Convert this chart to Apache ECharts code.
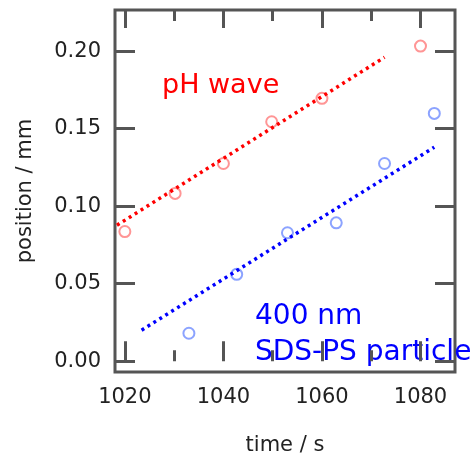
<!DOCTYPE html>
<html>
<head>
<meta charset="utf-8">
<script src="https://cdn.jsdelivr.net/npm/echarts@6/dist/echarts.min.js"></script>
<style>
  html, body { margin: 0; padding: 0; background: #fff; }
  #chart { width: 476px; height: 457px; }
</style>
</head>
<body>
<div id="chart"></div>
<script>
// Measured positions of the pH wave front and of the particle band (time in s, position in mm)
const phTime = [1020, 1030.2, 1040, 1049.8, 1060, 1080];
const phPos = [0.0836, 0.1082, 0.1275, 0.1544, 0.1695, 0.2032];
const psTime = [1033.0, 1042.7, 1053.0, 1062.9, 1072.7, 1082.8];
const psPos = [0.018, 0.056, 0.0828, 0.0892, 0.1275, 0.1598];

// Straight-line fits, given by their two end points
const phFitTime = [1018.4, 1072.7];
const phFitPos = [0.0877, 0.196];
const psFitTime = [1023.4, 1082.8];
const psFitPos = [0.020, 0.138];

// Axis ticks
const xMajor = [1020, 1040, 1060, 1080];
const xMinor = [1030, 1050, 1070];
const yMajor = [0, 0.05, 0.10, 0.15, 0.20];

const FONT = 'DejaVu Sans';
const FRAME = '#555';
const TXT = '#222';

const pairs = (a, b) => a.map((v, i) => [v, b[i]]);

const xRange = { min: 1018, max: 1087 };
const yRange = { min: -0.007, max: 0.2265 };

function xAxisDef(pos, ticks, len, labels, name) {
  return {
    type: 'value', position: pos, ...xRange,
    axisLine: { show: false },
    splitLine: { show: false },
    axisTick: { show: true, inside: true, length: len, customValues: ticks,
      lineStyle: { color: FRAME, width: 3 } },
    axisLabel: labels ? { show: true, customValues: ticks, margin: 15,
      formatter: v => String(Math.round(v)),
      fontFamily: FONT, fontSize: 21, color: TXT } : { show: false },
    name: name || '', nameLocation: 'middle', nameGap: 63,
    nameTextStyle: { fontFamily: FONT, fontSize: 21, color: TXT }
  };
}

function yAxisDef(pos, labels, name) {
  return {
    type: 'value', position: pos, ...yRange,
    axisLine: { show: false },
    splitLine: { show: false },
    axisTick: { show: true, inside: true, length: 20, customValues: yMajor,
      lineStyle: { color: FRAME, width: 3 } },
    axisLabel: labels ? { show: true, customValues: yMajor, margin: 14,
      formatter: v => v.toFixed(2),
      fontFamily: FONT, fontSize: 21, color: TXT } : { show: false },
    name: name || '', nameLocation: 'middle', nameGap: 79,
    nameTextStyle: { fontFamily: FONT, fontSize: 21, color: TXT }
  };
}

const chart = echarts.init(document.getElementById('chart'), null, { renderer: 'canvas' });

chart.setOption({
  animation: false,
  backgroundColor: '#fff',
  grid: { left: 115, right: 21, top: 10, bottom: 85, show: true,
    containLabel: false, outerBoundsMode: 'none',
    borderColor: FRAME, borderWidth: 3, backgroundColor: 'transparent' },
  xAxis: [
    xAxisDef('bottom', xMajor, 20, true, 'time / s'),
    xAxisDef('bottom', xMinor, 11, false),
    xAxisDef('top', xMajor, 18, false),
    xAxisDef('top', xMinor, 11, false)
  ],
  yAxis: [
    yAxisDef('left', true, 'position / mm'),
    yAxisDef('right', false)
  ],
  series: [
    {
      type: 'line', data: pairs(phFitTime, phFitPos), showSymbol: false, silent: true,
      lineStyle: { color: '#ff0000', width: 3.5, type: [3, 4], cap: 'butt' }, z: 3
    },
    {
      type: 'line', data: pairs(psFitTime, psFitPos), showSymbol: false, silent: true,
      lineStyle: { color: '#0000ff', width: 3.5, type: [3, 4], cap: 'butt' }, z: 3
    },
    {
      type: 'scatter', data: pairs(phTime, phPos), symbol: 'circle', symbolSize: 11,
      itemStyle: { color: 'rgba(0,0,0,0)', borderColor: '#ff7a7a', borderWidth: 2 }, z: 2
    },
    {
      type: 'scatter', data: pairs(psTime, psPos), symbol: 'circle', symbolSize: 11,
      itemStyle: { color: 'rgba(0,0,0,0)', borderColor: '#6f8cff', borderWidth: 2 }, z: 2
    }
  ],
  graphic: [
    { type: 'text', left: 162, top: 72,
      style: { text: 'pH wave', fill: '#ff0000', font: '27px "DejaVu Sans"' } },
    { type: 'text', left: 255, top: 303,
      style: { text: '400 nm', fill: '#0000ff', font: '28px "DejaVu Sans"' } },
    { type: 'text', left: 255, top: 339,
      style: { text: 'SDS-PS particle', fill: '#0000ff', font: '28px "DejaVu Sans"' } }
  ]
});
</script>
</body>
</html>
